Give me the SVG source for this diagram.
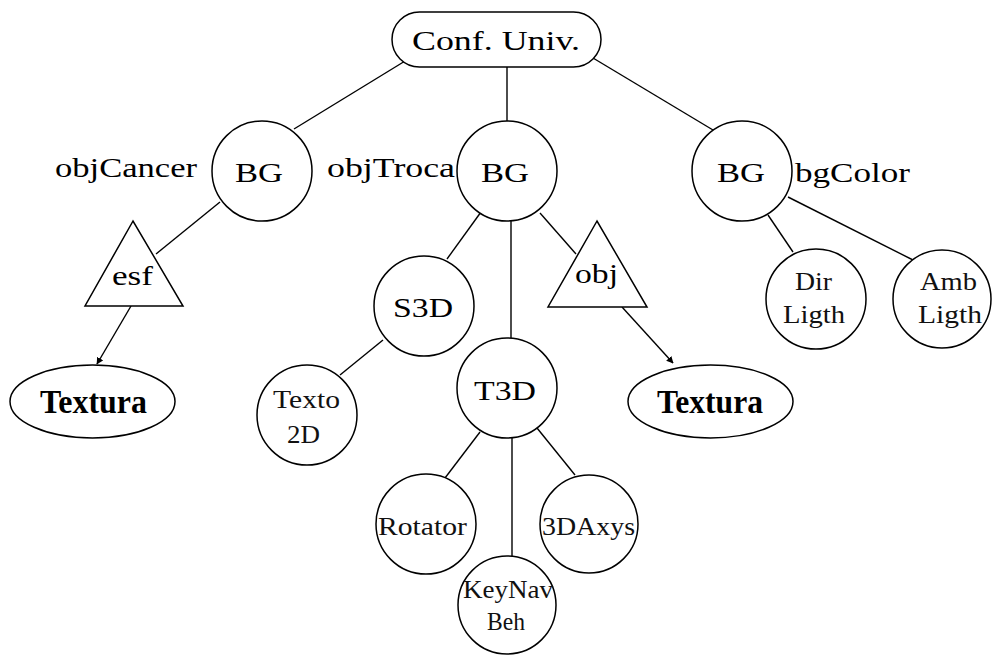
<svg xmlns="http://www.w3.org/2000/svg" width="992" height="655" viewBox="0 0 992 655">
<style>
.s{fill:none;stroke:#000;stroke-width:1.4}
.n{fill:#fff;stroke:#000;stroke-width:1.5}
.t{font-family:"Liberation Serif","Times New Roman",serif;font-size:28px;fill:#000;text-anchor:start}
.b{font-family:"Liberation Serif","Times New Roman",serif;font-size:34px;font-weight:bold;fill:#000}
.m{font-family:"Liberation Serif","Times New Roman",serif;font-size:26px;fill:#111}
</style>
<defs>
<marker id="ah" viewBox="0 0 10 10" refX="9" refY="5" markerWidth="7" markerHeight="7" orient="auto" markerUnits="userSpaceOnUse">
<path d="M0,0 L10,5 L0,10 z" fill="#000"/>
</marker>
</defs>
<rect width="992" height="655" fill="#fff"/>
<g id="connectors">
<line class="s" x1="410" y1="58" x2="294" y2="129"/>
<line class="s" x1="507" y1="67" x2="507" y2="121"/>
<line class="s" x1="593" y1="58" x2="713" y2="130"/>
<line class="s" x1="220" y1="202" x2="156" y2="254"/>
<line class="s" x1="481" y1="212" x2="447" y2="259"/>
<line class="s" x1="511" y1="221" x2="511" y2="338"/>
<line class="s" x1="540" y1="213" x2="576" y2="254"/>
<line class="s" x1="768" y1="215" x2="793" y2="252"/>
<line class="s" x1="788" y1="197" x2="917" y2="262"/>
<line class="s" x1="383" y1="340" x2="340" y2="375"/>
<line class="s" x1="480" y1="432" x2="445" y2="478"/>
<line class="s" x1="512" y1="438" x2="512" y2="557"/>
<line class="s" x1="537" y1="428" x2="575" y2="475"/>
<line class="s" x1="131" y1="306" x2="97" y2="364" marker-end="url(#ah)"/>
<line class="s" x1="622" y1="307" x2="673" y2="363" marker-end="url(#ah)"/>
</g>
<g id="root">
<rect class="n" x="392" y="12" width="209" height="55" rx="27.5"/>
<text class="t" x="412" y="50" font-size="32" textLength="168" lengthAdjust="spacingAndGlyphs">Conf. Univ.</text>
</g>
<g id="bg1">
<circle class="n" cx="262" cy="171" r="50"/>
<text class="t" x="235" y="182" textLength="48" lengthAdjust="spacingAndGlyphs">BG</text>
<text class="t" x="55" y="177" textLength="142" lengthAdjust="spacingAndGlyphs">objCancer</text>
</g>
<g id="bg2">
<circle class="n" cx="507" cy="171" r="50"/>
<text class="t" x="481" y="182" textLength="48" lengthAdjust="spacingAndGlyphs">BG</text>
<text class="t" x="327" y="177" textLength="128" lengthAdjust="spacingAndGlyphs">objTroca</text>
</g>
<g id="bg3">
<circle class="n" cx="742" cy="171" r="50"/>
<text class="t" x="717" y="182" textLength="48" lengthAdjust="spacingAndGlyphs">BG</text>
<text class="t" x="795" y="182" textLength="115" lengthAdjust="spacingAndGlyphs">bgColor</text>
</g>
<g id="esf">
<polygon class="n" points="133,221 85,306 183,306"/>
<text class="t" x="112" y="285" textLength="41" lengthAdjust="spacingAndGlyphs">esf</text>
</g>
<g id="obj">
<polygon class="n" points="597,221 548,307 647,307"/>
<text class="t" x="575" y="283" textLength="43" lengthAdjust="spacingAndGlyphs">obj</text>
</g>
<g id="textura1">
<ellipse class="n" cx="92.5" cy="401.5" rx="82.5" ry="36.5"/>
<text class="b" x="40" y="413" textLength="107" lengthAdjust="spacingAndGlyphs">Textura</text>
</g>
<g id="textura2">
<ellipse class="n" cx="710.5" cy="401.5" rx="82.5" ry="36.5"/>
<text class="b" x="657" y="413" textLength="106" lengthAdjust="spacingAndGlyphs">Textura</text>
</g>
<g id="s3d">
<circle class="n" cx="424" cy="306" r="50"/>
<text class="t" x="393" y="317" textLength="60" lengthAdjust="spacingAndGlyphs">S3D</text>
</g>
<g id="texto2d">
<circle class="n" cx="307" cy="415" r="50"/>
<text class="m" x="273" y="408" textLength="67" lengthAdjust="spacingAndGlyphs">Texto</text>
<text class="m" x="287" y="443" textLength="33" lengthAdjust="spacingAndGlyphs">2D</text>
</g>
<g id="t3d">
<circle class="n" cx="507" cy="388" r="50"/>
<text class="t" x="474" y="400" textLength="62" lengthAdjust="spacingAndGlyphs">T3D</text>
</g>
<g id="dirligth">
<circle class="n" cx="816" cy="299" r="50"/>
<text class="m" x="795" y="290" textLength="37" lengthAdjust="spacingAndGlyphs">Dir</text>
<text class="m" x="783" y="323" textLength="62" lengthAdjust="spacingAndGlyphs">Ligth</text>
</g>
<g id="ambligth">
<circle class="n" cx="942" cy="299" r="49"/>
<text class="m" x="920" y="290" textLength="57" lengthAdjust="spacingAndGlyphs">Amb</text>
<text class="m" x="918" y="323" textLength="64" lengthAdjust="spacingAndGlyphs">Ligth</text>
</g>
<g id="rotator">
<circle class="n" cx="426" cy="524" r="50"/>
<text class="m" x="378" y="535" textLength="89" lengthAdjust="spacingAndGlyphs">Rotator</text>
</g>
<g id="axys">
<circle class="n" cx="589" cy="524" r="49"/>
<text class="m" x="542" y="535" textLength="93" lengthAdjust="spacingAndGlyphs">3DAxys</text>
</g>
<g id="keynav">
<circle class="n" cx="507" cy="605" r="49"/>
<text class="m" x="463" y="598" textLength="90" lengthAdjust="spacingAndGlyphs">KeyNav</text>
<text class="m" x="487" y="630" textLength="38" lengthAdjust="spacingAndGlyphs">Beh</text>
</g>
</svg>
